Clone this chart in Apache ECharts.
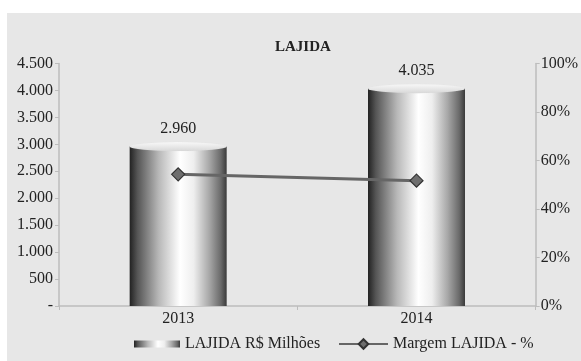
<!DOCTYPE html>
<html>
<head>
<meta charset="utf-8">
<script src="https://cdn.jsdelivr.net/npm/echarts@6/dist/echarts.min.js"></script>
<style>
html,body{margin:0;padding:0;background:#fff;}
#c{width:581px;height:361px;}
</style>
</head>
<body>
<div id="c"></div>
<script>
const categories = ['2013', '2014'];
const lajida = [2960, 4035];
const margem = [54.3, 51.7];
const leftTicks = { min: 0, max: 4500, interval: 500 };
const rightTicks = { min: 0, max: 100, interval: 20 };
const barName = 'LAJIDA R$ Milhões';
const lineName = 'Margem LAJIDA - %';

function fmtThousands(v) {
  if (v === 0) return '-';
  return String(v).replace(/\B(?=(\d{3})+(?!\d))/g, '.');
}

const font = "'Liberation Serif', 'Times New Roman', 'DejaVu Serif', serif";
const fs = 16;
const cylGrad = {
  type: 'linear', x: 0, y: 0, x2: 1, y2: 0,
  colorStops: [
    { offset: 0, color: '#222222' },
    { offset: 0.08, color: '#555555' },
    { offset: 0.3, color: '#b8b8b8' },
    { offset: 0.52, color: '#ffffff' },
    { offset: 0.66, color: '#eeeeee' },
    { offset: 0.82, color: '#a8a8a8' },
    { offset: 0.94, color: '#6a6a6a' },
    { offset: 1, color: '#3a3a3a' }
  ]
};
const topGrad = {
  type: 'linear', x: 0, y: 0, x2: 0, y2: 1,
  colorStops: [
    { offset: 0, color: '#f8f8f8' },
    { offset: 1, color: '#d8d8d8' }
  ]
};

const chart = echarts.init(document.getElementById('c'));
chart.setOption({
  animation: false,
  backgroundColor: '#ffffff',
  textStyle: { fontFamily: font },
  graphic: [{
    type: 'rect', z: -10, silent: true,
    shape: { x: 7, y: 13, width: 574, height: 348 },
    style: { fill: '#e7e7e7' }
  }],
  title: {
    text: 'LAJIDA', left: 270, top: 35,
    textStyle: { fontFamily: font, fontSize: 15, fontWeight: 'bold', color: '#222' }
  },
  legend: [{
    data: [barName], left: 129, top: 331, itemWidth: 46, itemHeight: 7, itemGap: 6,
    icon: 'rect',
    textStyle: { fontFamily: font, fontSize: fs, color: '#222' }
  }, {
    data: [lineName], left: 333, top: 331, itemWidth: 49, itemHeight: 12, itemGap: 4,
    textStyle: { fontFamily: font, fontSize: fs, color: '#222' }
  }],
  grid: { left: 59, right: 45, top: 63.5, bottom: 55 },
  xAxis: {
    type: 'category', data: categories,
    axisLine: { lineStyle: { color: '#bdbdbd', width: 1.5 } },
    axisTick: { show: true, length: 4, lineStyle: { color: '#bdbdbd' } },
    axisLabel: { fontFamily: font, fontSize: fs, color: '#222', margin: 5 }
  },
  yAxis: [{
    type: 'value', min: leftTicks.min, max: leftTicks.max, interval: leftTicks.interval,
    splitLine: { show: false },
    axisLine: { show: true, lineStyle: { color: '#bdbdbd', width: 1.5 } },
    axisTick: { show: true, length: 4, lineStyle: { color: '#bdbdbd' } },
    axisLabel: { fontFamily: font, fontSize: fs, color: '#222', margin: 6, formatter: fmtThousands }
  }, {
    type: 'value', min: rightTicks.min, max: rightTicks.max, interval: rightTicks.interval,
    position: 'right',
    splitLine: { show: false },
    axisLine: { show: true, lineStyle: { color: '#bdbdbd', width: 1.5 } },
    axisTick: { show: true, length: 4, lineStyle: { color: '#bdbdbd' } },
    axisLabel: { fontFamily: font, fontSize: fs, color: '#222', margin: 5, formatter: '{value}%' }
  }],
  series: [{
    name: barName, type: 'bar', data: lajida, barWidth: 97, barGap: '-100%',
    itemStyle: { color: cylGrad },
    label: {
      show: true, position: 'top', distance: 10,
      fontFamily: font, fontSize: fs, color: '#222',
      formatter: p => fmtThousands(p.value)
    },
    z: 2
  }, {
    name: barName + '_top', type: 'pictorialBar', data: lajida, barWidth: 97, barGap: '-100%',
    symbol: 'circle', symbolSize: [97, 9], symbolPosition: 'end', symbolOffset: [0, '-50%'],
    itemStyle: { color: topGrad, borderColor: '#c8c8c8', borderWidth: 0.5 },
    z: 3, silent: true
  }, {
    name: lineName, type: 'line', yAxisIndex: 1, data: margem,
    symbol: 'diamond', symbolSize: 13,
    lineStyle: { color: '#666666', width: 3 },
    itemStyle: { color: '#6e6e6e', borderColor: '#333333', borderWidth: 1.2 },
    z: 5
  }]
});
</script>
</body>
</html>
